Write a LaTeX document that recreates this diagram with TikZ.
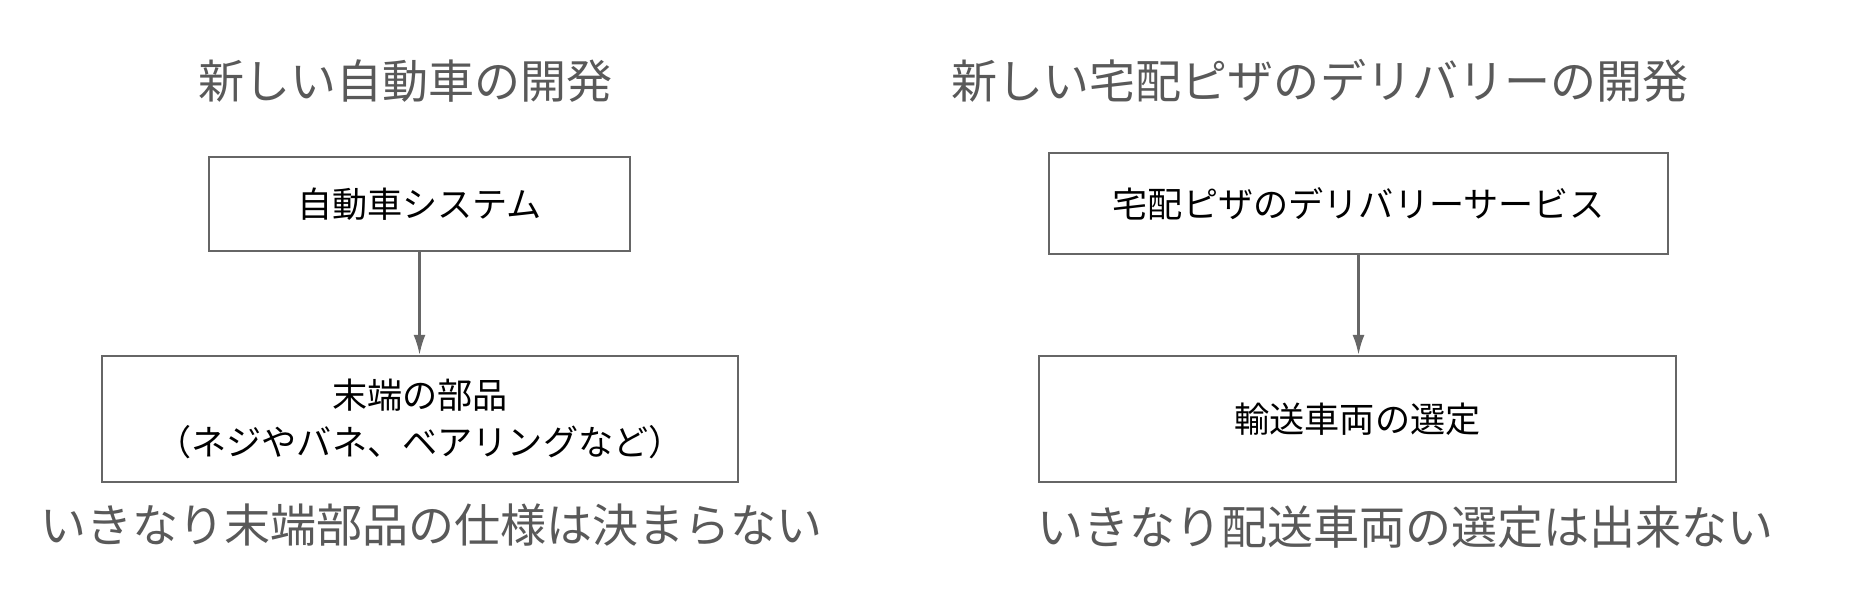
\documentclass[tikz,border=0pt]{standalone}
\usepackage{fontspec}
\usepackage{tikz}
\usetikzlibrary{arrows.meta}
\newfontfamily\jpfont{Noto Sans CJK JP}
\definecolor{textgray}{HTML}{595959}
\definecolor{linegray}{HTML}{666666}

\begin{document}
\begin{tikzpicture}[>={Latex[length=2mm,width=1.2mm]}, line width=0.65pt]
	\tikzstyle{head}=[text=textgray, font=\jpfont\fontsize{13.1}{16}\selectfont]
	\tikzstyle{unitbox}=[draw=linegray, inner sep=0pt, align=center, font=\jpfont\fontsize{10}{13.4}\selectfont]

	\useasboundingbox (0,0) rectangle (18.51,5.95);

	% left side
	\node[head](titleCar) at (4.055,5.14){新しい自動車の開発};
	\node[unitbox, minimum width=4.21cm, minimum height=0.94cm](sysCar) at (4.195,3.91){自動車システム};
	\node[unitbox, minimum width=6.36cm, minimum height=1.26cm](partCar) at (4.20,1.76){末端の部品\\（ネジやバネ、ベアリングなど）};
	\node[head](noteCar) at (4.315,0.70){いきなり末端部品の仕様は決まらない};

	% right side
	\node[head](titlePizza) at (13.20,5.14){新しい宅配ピザのデリバリーの開発};
	\node[unitbox, minimum width=6.19cm, minimum height=1.01cm](sysPizza) at (13.585,3.915){宅配ピザのデリバリーサービス};
	\node[unitbox, minimum width=6.37cm, minimum height=1.26cm](carPizza) at (13.575,1.76){輸送車両の選定};
	\node[head](notePizza) at (14.055,0.68){いきなり配送車両の選定は出来ない};

	\draw[->, draw=linegray, fill=linegray] (sysCar) -- (sysCar |- partCar.north);
	\draw[->, draw=linegray, fill=linegray] (sysPizza) -- (sysPizza |- carPizza.north);

\end{tikzpicture}
\end{document}
